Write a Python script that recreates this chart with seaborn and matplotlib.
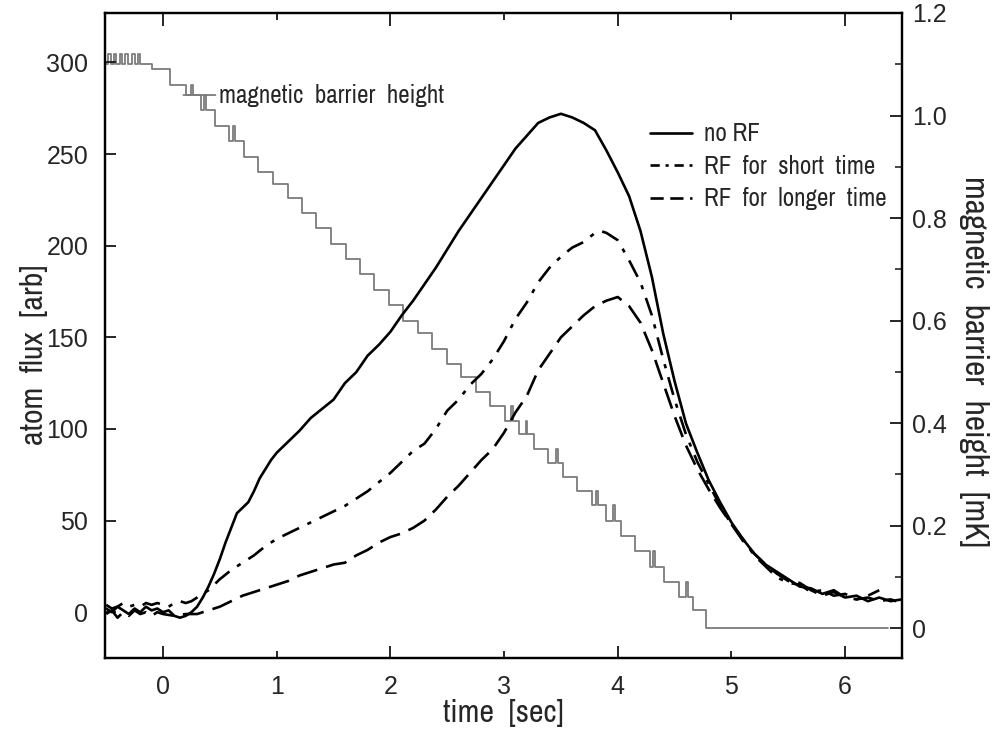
import numpy as np
import pandas as pd
import matplotlib
matplotlib.use("Agg")
import matplotlib.pyplot as plt
import seaborn as sns
from matplotlib.lines import Line2D
from matplotlib.ticker import MultipleLocator
from matplotlib import font_manager as fm

# ---------------- data ----------------
t_norf = [-0.50, -0.45, -0.40, -0.35, -0.30, -0.25, -0.20, -0.15, -0.10, -0.05, 0.00, 0.05, 0.10, 0.15, 0.20, 0.25,
          0.30, 0.35, 0.40, 0.45, 0.50, 0.55, 0.60, 0.65, 0.70, 0.75, 0.80, 0.85, 0.90, 0.95, 1.00,
          1.10, 1.20, 1.30, 1.40, 1.50, 1.60, 1.70, 1.80, 1.90, 2.00, 2.10, 2.20, 2.30, 2.40, 2.50,
          2.60, 2.70, 2.80, 2.90, 3.00, 3.10, 3.20, 3.30, 3.40, 3.50, 3.60, 3.70, 3.80, 3.90, 4.00,
          4.10, 4.20, 4.30, 4.40, 4.50, 4.60, 4.70, 4.80, 4.90, 5.00, 5.10, 5.20, 5.30, 5.40, 5.50,
          5.60, 5.70, 5.80, 5.90, 6.00, 6.10, 6.20, 6.30, 6.40, 6.50]
f_norf = [2, 0, 3, 1, -1, 2, 0, 3, 1, 2, 0, 1, -2, -3, -2, 0,
          3, 8, 14, 21, 29, 38, 46, 54, 57, 60, 66, 73, 78, 83, 87,
          93, 99, 106, 111, 116, 125, 131, 140, 146, 153, 162, 170, 179, 188, 198,
          208, 217, 226, 235, 244, 253, 260, 267, 270, 272, 270, 267, 263, 252, 240,
          227, 208, 183, 152, 126, 103, 87, 72, 60, 49, 40, 32, 26, 22, 18,
          14, 13, 10, 12, 8, 9, 6, 8, 6, 7]

t_short = [-0.50, -0.45, -0.40, -0.35, -0.30, -0.25, -0.20, -0.15, -0.10, -0.05, 0.00, 0.05, 0.10, 0.15, 0.20, 0.25,
           0.30, 0.40, 0.50, 0.60, 0.70, 0.80, 0.90, 1.00, 1.10, 1.20, 1.30, 1.40, 1.50, 1.60,
           1.70, 1.80, 1.90, 2.00, 2.10, 2.20, 2.30, 2.40, 2.50, 2.60, 2.70, 2.80, 2.90, 3.00,
           3.10, 3.20, 3.30, 3.40, 3.50, 3.60, 3.70, 3.80, 3.85, 3.90, 4.00, 4.10, 4.20, 4.30,
           4.40, 4.50, 4.60, 4.70, 4.80, 4.90, 5.00, 5.10, 5.20, 5.30, 5.40, 5.50, 5.60, 5.70,
           5.80, 5.90, 6.00, 6.10, 6.20, 6.30]
f_short = [4, 2, 3, 5, 3, 4, 3, 5, 4, 5, 4, 3, 5, 6, 5, 6,
           8, 12, 18, 23, 27, 31, 36, 40, 43, 46, 49, 52, 55, 58,
           62, 66, 71, 76, 82, 88, 92, 100, 110, 116, 124, 130, 138, 148,
           160, 169, 180, 188, 194, 199, 202, 207, 208, 207, 203, 192, 180, 162,
           138, 116, 97, 82, 70, 58, 48, 40, 31, 25, 19, 16, 15, 11,
           12, 9, 10, 7, 9, 12]

t_long = [-0.50, -0.45, -0.40, -0.35, -0.30, -0.25, -0.20, -0.15, -0.10, -0.05, 0.00, 0.10, 0.20, 0.30,
          0.40, 0.50, 0.60, 0.70, 0.80, 0.90, 1.00, 1.10, 1.20, 1.30, 1.40, 1.50, 1.60, 1.70,
          1.80, 1.90, 2.00, 2.10, 2.20, 2.30, 2.40, 2.50, 2.60, 2.70, 2.80, 2.90, 3.00, 3.10,
          3.20, 3.30, 3.40, 3.50, 3.60, 3.70, 3.80, 3.90, 4.00, 4.10, 4.20, 4.30, 4.40, 4.50,
          4.60, 4.70, 4.80, 4.90, 5.00, 5.10, 5.20, 5.30, 5.40, 5.50, 5.60, 5.70, 5.80, 5.90,
          6.00, 6.10, 6.20, 6.30, 6.40, 6.45]
f_long = [-1, 1, -3, 0, -2, 1, -1, 0, -2, 0, -1, -2, -1, -1,
          1, 3, 6, 9, 11, 13, 15, 17, 20, 22, 24, 26, 27, 31,
          34, 38, 41, 43, 46, 50, 56, 63, 69, 76, 83, 89, 98, 109,
          118, 132, 141, 150, 156, 162, 167, 170, 172, 167, 158, 143, 125, 107,
          91, 78, 67, 57, 48, 39, 32, 26, 21, 17, 16, 12, 9, 11,
          8, 7, 8, 6, 7, 6]

barrier_t = [-0.51, -0.48, -0.46, -0.43, -0.41, -0.38, -0.36, -0.33, -0.31, -0.27, -0.25, -0.22, -0.20, -0.10,
             0.06, 0.20, 0.25, 0.265, 0.33, 0.36, 0.375, 0.46, 0.58, 0.62, 0.635, 0.71, 0.84, 0.97,
             1.10, 1.22, 1.35, 1.48, 1.61, 1.73, 1.86, 1.99, 2.11, 2.24, 2.37, 2.50, 2.62, 2.75,
             2.88, 3.01, 3.06, 3.075, 3.13, 3.19, 3.205, 3.26, 3.39, 3.46, 3.475, 3.52, 3.64,
             3.77, 3.81, 3.825, 3.90, 3.96, 3.975, 4.03, 4.15, 4.28, 4.31, 4.325, 4.41, 4.54,
             4.60, 4.615, 4.66, 4.78, 6.38]
barrier_h = [1.10, 1.12, 1.10, 1.12, 1.10, 1.12, 1.10, 1.12, 1.10, 1.12, 1.10, 1.12, 1.10, 1.09,
             1.06, 1.04, 1.06, 1.04, 1.01, 1.04, 1.01, 0.98, 0.95, 0.98, 0.95, 0.92, 0.89, 0.866,
             0.84, 0.81, 0.78, 0.75, 0.72, 0.69, 0.66, 0.63, 0.60, 0.575, 0.545, 0.515, 0.49, 0.46,
             0.433, 0.405, 0.433, 0.405, 0.378, 0.405, 0.378, 0.35, 0.323, 0.35, 0.323, 0.295, 0.268,
             0.24, 0.268, 0.24, 0.21, 0.24, 0.21, 0.18, 0.15, 0.12, 0.15, 0.12, 0.09, 0.06,
             0.09, 0.06, 0.035, 0.0, 0.0]

series_labels = ["no RF", "RF  for  short  time", "RF  for  longer  time"]
x_ticks = [0, 1, 2, 3, 4, 5, 6]
left_ticks = [0, 50, 100, 150, 200, 250, 300]
right_ticks = [0, 0.2, 0.4, 0.6, 0.8, 1.0, 1.2]
right_tick_labels = ["0", "0.2", "0.4", "0.6", "0.8", "1.0", "1.2"]

# ---------------- style ----------------
sns.set_style("ticks")
plt.rcParams["font.family"] = ["Liberation Sans", "DejaVu Sans"]


def pick_font(cands):
    for c in cands:
        try:
            fm.findfont(fm.FontProperties(family=c), fallback_to_default=False)
            return c
        except Exception:
            continue
    return "Liberation Sans"


NARROW_NAME = pick_font(["Liberation Sans Narrow", "Archivo Narrow", "Barlow Semi Condensed", "Asap Condensed"])
NARROW = [NARROW_NAME, "DejaVu Sans"]
LAB_FS = 23
ANN_FS = 18

fig = plt.figure(figsize=(9.92, 7.4), dpi=100)
ax = fig.add_axes([105 / 992, 1 - 658 / 740, (902 - 105) / 992, (658 - 13) / 740])
ax2 = ax.twinx()

# barrier staircase (right axis)
df_b = pd.DataFrame({"t": barrier_t, "h": barrier_h})
sns.lineplot(data=df_b, x="t", y="h", ax=ax2, estimator=None, sort=False,
             color="#7c7c7c", linewidth=1.3, drawstyle="steps-post")

# flux curves (left axis)
ax.set_zorder(ax2.get_zorder() + 1)
ax.patch.set_visible(False)

curves = [(t_norf, f_norf, None), (t_short, f_short, (7, 3.5, 1.6, 3.5)), (t_long, f_long, (8, 3.5))]
legend_dashes = [None, (3.5, 2.2, 1.2, 2.2), (5, 2.5)]
handles = []
for (tt, ff, dash), ldash in zip(curves, legend_dashes):
    df = pd.DataFrame({"t": tt, "f": ff})
    sns.lineplot(data=df, x="t", y="f", ax=ax, estimator=None, sort=False,
                 color="black", linewidth=1.9)
    ln = ax.lines[-1]
    if dash is not None:
        ln.set_dashes(dash)
    h = Line2D([], [], color="black", linewidth=1.9)
    if ldash is not None:
        h.set_dashes(ldash)
    handles.append(h)

# limits
ax.set_xlim(-0.51, 6.50)
ax.set_ylim(-25, 327)
ax2.set_ylim(-0.058, 1.194)

# ticks
ax.set_xticks(x_ticks)
ax.set_xticklabels([str(v) for v in x_ticks])
ax.set_yticks(left_ticks)
ax.set_yticklabels([str(v) for v in left_ticks])
ax2.set_yticks(right_ticks)
ax2.set_yticklabels(right_tick_labels)
ax2.yaxis.set_minor_locator(MultipleLocator(0.1))

ax.tick_params(axis="x", direction="in", top=True, bottom=True, width=1.4, length=9,
               labelsize=18, pad=12)
ax.tick_params(axis="y", direction="in", left=True, right=False, width=1.4, length=8,
               labelsize=18, pad=12)
ax2.tick_params(axis="y", which="major", direction="in", right=True, width=1.4, length=9,
                labelsize=18, pad=7)
ax2.tick_params(axis="y", which="minor", direction="in", right=True, width=1.2, length=5)

for i, tk in enumerate(ax.xaxis.get_major_ticks()):
    L = 9 if x_ticks[i] % 2 == 0 else 5
    tk.tick1line.set_markersize(L)
    tk.tick2line.set_markersize(L)

for a in (ax, ax2):
    for s in a.spines.values():
        s.set_linewidth(1.6)
        s.set_color("black")
        s.set_visible(True)

# labels
ax.set_xlabel("time  [sec]", fontsize=LAB_FS, family=NARROW)
ax.xaxis.set_label_coords(0.5, -0.064)
ax.set_ylabel("atom  flux  [arb]", fontsize=LAB_FS, family=NARROW)
ax.yaxis.set_label_coords(-0.072, 0.47)
ax2.set_ylabel("magnetic  barrier  height  [mK]", fontsize=24, family=NARROW,
               rotation=270, va="bottom")
ax2.yaxis.set_label_coords(1.071, 0.46)

# annotation for barrier
ax2.annotate("magnetic  barrier  height", xy=(0.18, 1.04), xytext=(0.49, 1.04),
             textcoords="data", fontsize=ANN_FS, family=NARROW, ha="left", va="center",
             arrowprops=dict(arrowstyle="-", color="#7c7c7c", lw=1.3,
                             shrinkA=0, shrinkB=0))

# legend
leg = ax.legend(handles, series_labels, loc="upper left", bbox_to_anchor=(0.671, 0.846),
                frameon=False, handlelength=1.7, handletextpad=0.45,
                labelspacing=0.38, borderaxespad=0.0, prop={"family": NARROW, "size": ANN_FS})

fig.savefig("out.png", dpi=100)
